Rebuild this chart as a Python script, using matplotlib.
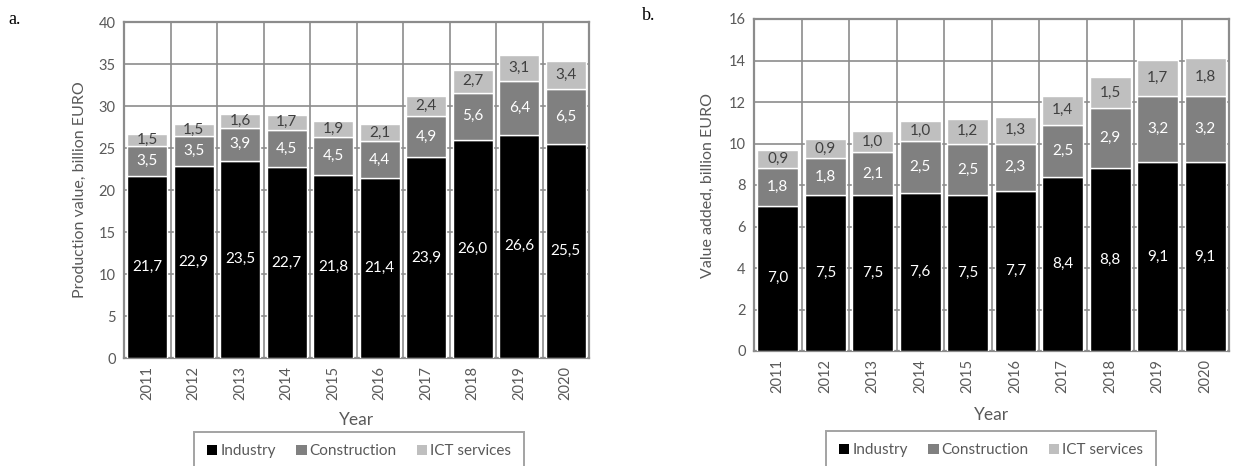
import matplotlib
matplotlib.use("Agg")
import matplotlib.pyplot as plt
import numpy as np

years = ["2011", "2012", "2013", "2014", "2015", "2016", "2017", "2018", "2019", "2020"]
series_names = ["Industry", "Construction", "ICT services"]

prod_industry = [21.7, 22.9, 23.5, 22.7, 21.8, 21.4, 23.9, 26.0, 26.6, 25.5]
prod_construction = [3.5, 3.5, 3.9, 4.5, 4.5, 4.4, 4.9, 5.6, 6.4, 6.5]
prod_ict = [1.5, 1.5, 1.6, 1.7, 1.9, 2.1, 2.4, 2.7, 3.1, 3.4]

va_industry = [7.0, 7.5, 7.5, 7.6, 7.5, 7.7, 8.4, 8.8, 9.1, 9.1]
va_construction = [1.8, 1.8, 2.1, 2.5, 2.5, 2.3, 2.5, 2.9, 3.2, 3.2]
va_ict = [0.9, 0.9, 1.0, 1.0, 1.2, 1.3, 1.4, 1.5, 1.7, 1.8]

colors = ["#000000", "#808080", "#BFBFBF"]
label_colors = ["white", "white", "#404040"]
FONT = "Lato"
W, H = 1233, 466

fig = plt.figure(figsize=(W / 100, H / 100), dpi=100)


def fx(px):
    return px / W


def fy(py):
    return 1 - py / H


def panel(rect, data, ymax, ystep, ylabel, ylabel_x, year_y, legend_cx, legend_top, letter, letter_xy):
    ax = fig.add_axes(rect)
    x = np.arange(len(years))
    bottom = np.zeros(len(years))
    handles = []
    for vals, c, lc, name in zip(data, colors, label_colors, series_names):
        vals = np.array(vals)
        b = ax.bar(x, vals, bottom=bottom, width=0.86, color=c, edgecolor="white",
                   linewidth=1.0, label=name, zorder=3)
        handles.append(b)
        for xi, v, bt in zip(x, vals, bottom):
            ax.text(xi, bt + v / 2, f"{v:.1f}".replace(".", ","), ha="center", va="center",
                    color=lc, fontsize=11, family=FONT, zorder=4)
        bottom = bottom + vals
    ax.set_xlim(-0.5, len(years) - 0.5)
    ax.set_ylim(0, ymax)
    ax.set_yticks(np.arange(0, ymax + 0.001, ystep))
    ax.set_yticklabels([f"{int(t)}" for t in np.arange(0, ymax + 0.001, ystep)],
                       family=FONT, fontsize=10.5, color="#595959")
    ax.set_xticks(x)
    ax.set_xticklabels(years, rotation=90, family=FONT, fontsize=10.5, color="#595959")
    ax.set_xticks(np.arange(-0.5, len(years), 1), minor=True)
    ax.tick_params(axis="both", which="both", length=0, pad=6)
    ax.grid(axis="y", which="major", color="#8C8C8C", linewidth=1.2, zorder=0)
    ax.grid(axis="x", which="minor", color="#8C8C8C", linewidth=1.2, zorder=0)
    for s in ax.spines.values():
        s.set_color("#8C8C8C")
        s.set_linewidth(1.6)
    ax.set_axisbelow(True)
    fig.text(fx(ylabel_x), rect[1] + rect[3] / 2, ylabel, rotation=90, ha="center", va="center",
             family=FONT, fontsize=11.5, color="#595959")
    fig.text(rect[0] + rect[2] / 2, fy(year_y), "Year", ha="center", va="center",
             family=FONT, fontsize=12.5, color="#595959")
    leg = fig.legend(handles=handles, loc="upper center", bbox_to_anchor=(fx(legend_cx), fy(legend_top)),
                     ncol=3, frameon=True, fancybox=False, edgecolor="#8C8C8C",
                     prop={"family": FONT, "size": 11}, handlelength=0.7, handleheight=0.7,
                     handletextpad=0.2, columnspacing=1.3, borderpad=0.8,
                     borderaxespad=0)
    leg.get_frame().set_linewidth(1.4)
    for t in leg.get_texts():
        t.set_color("#595959")
    for h in leg.legend_handles:
        h.set_edgecolor("none")
    fig.text(fx(letter_xy[0]), fy(letter_xy[1]), letter, ha="left", va="center",
             family="Liberation Serif", fontsize=13)
    return ax


rect_a = [fx(124), fy(358), fx(589 - 124), (358 - 22) / H]
rect_b = [fx(754), fy(351), fx(1229 - 754), (351 - 19) / H]

panel(rect_a, [prod_industry, prod_construction, prod_ict], 40, 5,
      "Production value, billion EURO", 80, 420, 359, 432, "a.", (8, 20))
panel(rect_b, [va_industry, va_construction, va_ict], 16, 2,
      "Value added, billion EURO", 708, 415, 991, 431, "b.", (642, 16))

fig.savefig("out.png", dpi=100)
